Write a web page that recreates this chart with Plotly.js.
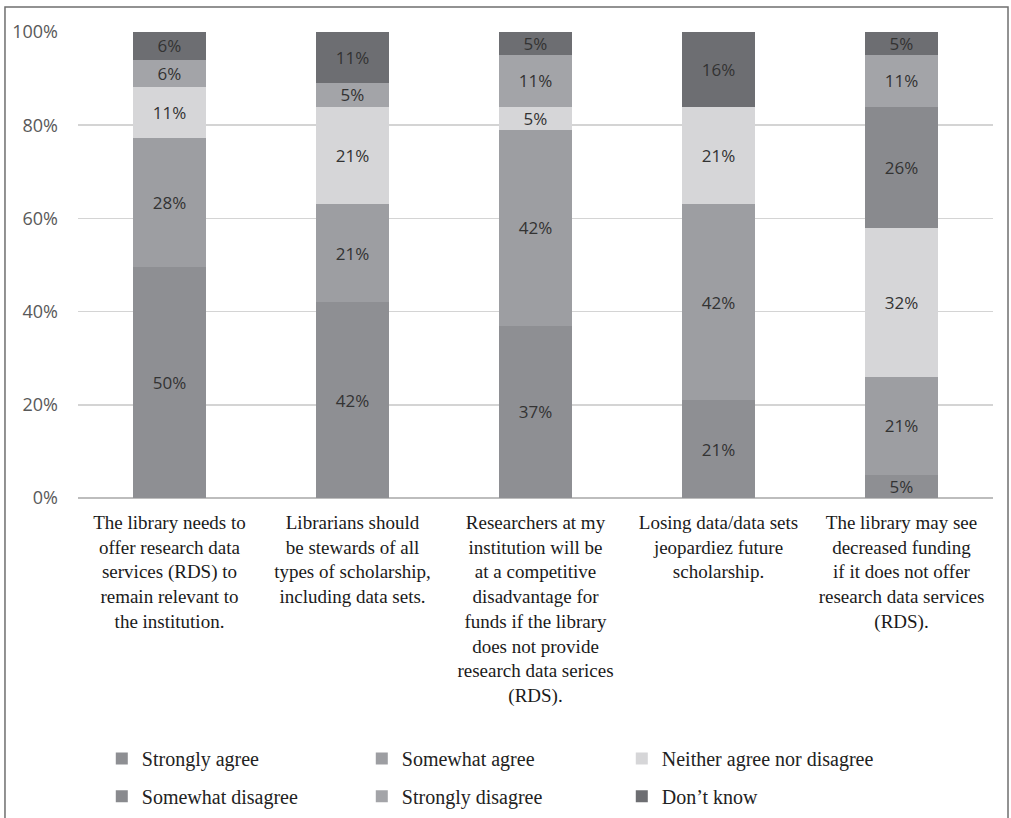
<!DOCTYPE html>
<html>
<head>
<meta charset="utf-8">
<script src="https://cdn.plot.ly/plotly-3.0.1.min.js"></script>
<style>
  html, body { margin: 0; padding: 0; background: #fff; }
  #chart { width: 1011px; height: 818px; }
</style>
</head>
<body>
<div id="chart"></div>
<script>
// Survey statements (x-axis categories, wrapped for display)
const statements = [
  "The library needs to<br>offer research data<br>services (RDS) to<br>remain relevant to<br>the institution.",
  "Librarians should<br>be stewards of all<br>types of scholarship,<br>including data sets.",
  "Researchers at my<br>institution will be<br>at a competitive<br>disadvantage for<br>funds if the library<br>does not provide<br>research data serices<br>(RDS).",
  "Losing data/data sets<br>jeopardiez future<br>scholarship.",
  "The library may see<br>decreased funding<br>if it does not offer<br>research data services<br>(RDS)."
];

// Response shares (%) per statement; null = no responses in that group
const stronglyAgree     = [50, 42, 37, 21, 5];
const somewhatAgree     = [28, 21, 42, 42, 21];
const neitherAgree      = [11, 21, 5, 21, 32];
const somewhatDisagree  = [null, null, null, null, 26];
const stronglyDisagree  = [6, 5, 11, null, 11];
const dontKnow          = [6, 11, 5, 16, 5];

const responseNames = [
  "Strongly agree", "Somewhat agree", "Neither agree nor disagree",
  "Somewhat disagree", "Strongly disagree", "Don\u2019t know"
];
const responseValues = [stronglyAgree, somewhatAgree, neitherAgree,
                        somewhatDisagree, stronglyDisagree, dontKnow];
const responseColors = ["#8e8f93", "#9d9ea2", "#d6d6d8", "#898a8e", "#a3a4a8", "#6d6e72"];

const sansFont = "'Open Sans', Lato, sans-serif";
const serifFont = "'Liberation Serif', 'DejaVu Serif', serif";

const traces = responseValues.map((vals, i) => ({
  type: "bar",
  name: responseNames[i],
  x: statements,
  y: vals,
  text: vals.map(v => v == null ? "" : v + "%"),
  texttemplate: "%{text}",
  textposition: "inside",
  insidetextanchor: "middle",
  textangle: 0,
  constraintext: "none",
  textfont: { family: sansFont, size: 17, color: "#333333" },
  marker: { color: responseColors[i], line: { width: 0 } },
  legend: i < 3 ? "legend" : "legend2",
  hoverinfo: "name+y"
}));

const legendFont = { family: serifFont, size: 20, color: "#222222" };

const layout = {
  width: 1011,
  height: 818,
  margin: { l: 78, r: 18, t: 32, b: 320, autoexpand: false },
  paper_bgcolor: "#ffffff",
  plot_bgcolor: "#ffffff",
  barmode: "stack",
  barnorm: "percent",
  bargap: 0.6,
  showlegend: true,
  xaxis: {
    type: "category",
    showgrid: false,
    showline: false,
    zeroline: false,
    ticks: "",
    tickangle: 0,
    ticklabelstandoff: 11,
    tickfont: { family: serifFont, size: 19, color: "#1a1a1a" }
  },
  yaxis: {
    range: [0, 100],
    dtick: 20,
    ticksuffix: "%",
    showgrid: true,
    gridcolor: "#d4d4d4",
    gridwidth: 1.5,
    zeroline: true,
    zerolinecolor: "#bdbdbd",
    zerolinewidth: 1.5,
    showline: false,
    ticks: "",
    ticklabelstandoff: 19,
    tickfont: { family: sansFont, size: 18, color: "#595959" }
  },
  legend: {
    orientation: "h",
    x: 0.026, y: -0.559,
    xanchor: "left", yanchor: "middle",
    entrywidth: 215,
    traceorder: "normal",
    font: legendFont,
    bgcolor: "rgba(0,0,0,0)"
  },
  legend2: {
    orientation: "h",
    x: 0.026, y: -0.64,
    xanchor: "left", yanchor: "middle",
    entrywidth: 215,
    traceorder: "normal",
    font: legendFont,
    bgcolor: "rgba(0,0,0,0)"
  },
  shapes: [{
    type: "rect",
    xref: "paper", yref: "paper",
    x0: -0.0798, x1: 1.0164,
    y0: -0.76, y1: 1.0536,
    line: { color: "#6f6f6f", width: 1.5 },
    fillcolor: "rgba(0,0,0,0)",
    layer: "below"
  }]
};

Plotly.newPlot("chart", traces, layout, { displayModeBar: false, staticPlot: true });
</script>
</body>
</html>
